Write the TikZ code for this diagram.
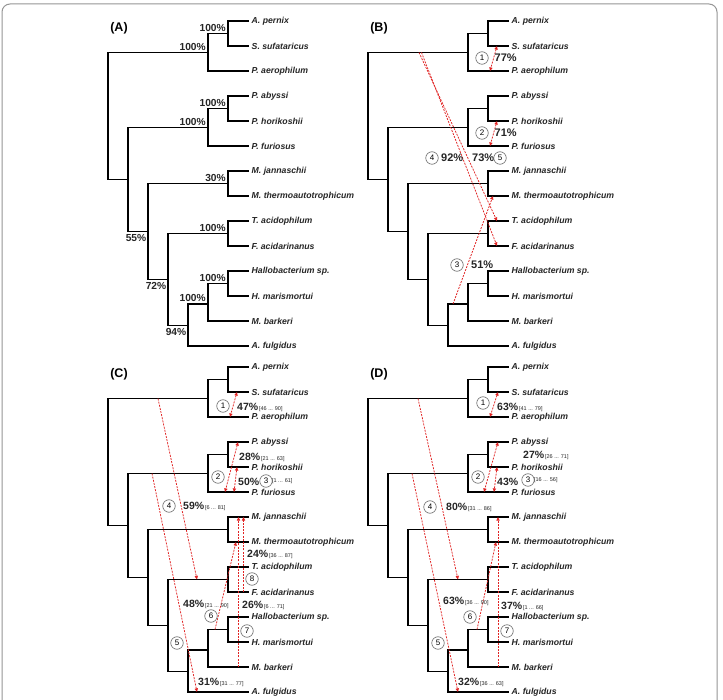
\documentclass[tikz,border=0pt]{standalone}
\usepackage{fontspec}
\setmainfont{Liberation Sans}
\usetikzlibrary{arrows.meta}
\definecolor{hgt}{RGB}{225,35,35}
\definecolor{framec}{RGB}{150,150,150}
\newcommand\ivl[1]{{\fontsize{5.5}{6}\selectfont\mdseries\,[#1]}}
\newcommand\archtree{%
  \coordinate (n1) at (228,33.5);
  \coordinate (n2) at (208,52.5);
  \coordinate (n3) at (228,108.5);
  \coordinate (n4) at (208,127.5);
  \coordinate (n5) at (228,183.5);
  \coordinate (n6) at (228,233.5);
  \coordinate (n7) at (228,283.5);
  \coordinate (n8) at (208,304);
  \coordinate (n9) at (188,325.5);
  \coordinate (n10) at (168,279.5);
  \coordinate (n11) at (148,231.5);
  \coordinate (n12) at (128,179.5);
  \coordinate (rt) at (108,116);
  \foreach \t [count=\i from 0] in {A. pernix,S. sufataricus,P. aerophilum,P. abyssi,P. horikoshii,P. furiosus,M. jannaschii,M. thermoautotrophicum,T. acidophilum,F. acidarinanus,Hallobacterium sp.,H. marismortui,M. barkeri,A. fulgidus}{%
    \coordinate (L\i) at (248,{21+25*\i});
    \node[leaf] (T\i) at (L\i) {\t};
  }
  \draw[br] (L0) -| (n1) |- (L1);
  \draw[br] (n1) -| (n2) |- (L2);
  \draw[br] (L3) -| (n3) |- (L4);
  \draw[br] (n3) -| (n4) |- (L5);
  \draw[br] (L6) -| (n5) |- (L7);
  \draw[br] (L8) -| (n6) |- (L9);
  \draw[br] (L10) -| (n7) |- (L11);
  \draw[br] (n7) -| (n8) |- (L12);
  \draw[br] (n8) -| (n9) |- (L13);
  \draw[br] (n6) -| (n10) |- (n9);
  \draw[br] (n5) -| (n11) |- (n10);
  \draw[br] (n4) -| (n12) |- (n11);
  \draw[br] (n2) -| (rt) |- (n12);
}
\begin{document}
\begin{tikzpicture}[x=1pt,y=-1pt,
  br/.style={line width=1.8pt, line cap=rect, line join=miter},
  leaf/.style={anchor=west, inner sep=0pt, xshift=3.5pt, font=\fontsize{8.7}{10}\selectfont\bfseries\itshape, text=black!85},
  supa/.style={inner sep=0.6pt, font=\fontsize{10.2}{12}\selectfont\bfseries, text=black!85},
  plab/.style={inner sep=0pt, font=\fontsize{12.5}{14}\selectfont\bfseries},
  pctb/.style={anchor=west, inner sep=0pt, font=\fontsize{11}{12}\selectfont\bfseries, text=black!85},
  pctc/.style={anchor=west, inner sep=0pt, font=\fontsize{10.5}{12}\selectfont\bfseries, text=black!85},
  circ/.style={circle, draw=black!60, line width=0.6pt, minimum size=12.5pt, inner sep=0pt, font=\fontsize{8}{9}\selectfont},
  hg/.style={draw=hgt, line width=0.75pt, dash pattern=on 2pt off 1.2pt, {Triangle[length=3.6pt,width=3.2pt]}-{Triangle[length=3.6pt,width=3.2pt]}},
  hgo/.style={draw=hgt, line width=0.75pt, dash pattern=on 2pt off 1.2pt, -{Triangle[length=3.6pt,width=3.2pt]}},
]
\fill[white] (0,0) rectangle (723,700);
\useasboundingbox (0,0) rectangle (723,700);
\begin{scope}
  \clip (0,0) rectangle (723,700);
  \draw[framec, line width=1pt, rounded corners=8pt] (2,4) rectangle (717,730);
\end{scope}

% ---------------- (A)
\begin{scope}[name prefix=A-]
  \archtree
  \node[plab] (lab) at (119,28) {(A)};
  \node[supa, anchor=south east] (s1) at (226.5,32) {100\%};
  \node[supa, anchor=south east] (s2) at (206.5,51) {100\%};
  \node[supa, anchor=south east] (s3) at (226.5,107) {100\%};
  \node[supa, anchor=south east] (s4) at (206.5,126) {100\%};
  \node[supa, anchor=south east] (s5) at (226.5,182) {30\%};
  \node[supa, anchor=south east] (s6) at (226.5,232) {100\%};
  \node[supa, anchor=south east] (s7) at (226.5,282) {100\%};
  \node[supa, anchor=south east] (s8) at (206.5,302.5) {100\%};
  \node[supa, anchor=north east] (s11) at (147,234) {55\%};
  \node[supa, anchor=north east] (s10) at (167,282) {72\%};
  \node[supa, anchor=north east] (s9) at (187,328) {94\%};
\end{scope}

% ---------------- (B)
\begin{scope}[shift={(260,0)}, name prefix=B-]
  \archtree
  \node[plab] (lab) at (119,28) {(B)};
  \coordinate (a1s) at (237,46); \coordinate (a1e) at (230,71);
  \coordinate (a2s) at (237,121); \coordinate (a2e) at (230,146);
  \coordinate (a4s) at (159,52.5); \coordinate (a4e) at (237,221);
  \coordinate (a5s) at (161.5,52.5); \coordinate (a5e) at (237,246);
  \coordinate (a3s) at (193,304); \coordinate (a3e) at (233,196);
  \draw[hg] (a1s) -- (a1e);
  \draw[hg] (a2s) -- (a2e);
  \draw[hgo] (a4s) -- (a4e);
  \draw[hgo] (a5s) -- (a5e);
  \draw[hgo] (a3s) -- (a3e);
  \node[circ] (c1) at (222,58) {1};
  \node[pctb] (p1) at (234.5,58) {77\%};
  \node[circ] (c2) at (222,133) {2};
  \node[pctb] (p2) at (234.5,133) {71\%};
  \node[circ] (c4) at (172,158) {4};
  \node[pctb] (p4) at (181,158) {92\%};
  \node[pctb] (p5) at (212,158) {73\%};
  \node[circ] (c5) at (240,158) {5};
  \node[circ] (c3) at (197,265) {3};
  \node[pctb] (p3) at (211,265) {51\%};
\end{scope}

% ---------------- (C)
\begin{scope}[shift={(0,346)}, name prefix=C-]
  \archtree
  \node[plab] (lab) at (119,28) {(C)};
  \coordinate (a1s) at (237,46); \coordinate (a1e) at (230,71);
  \coordinate (a2s) at (238,96); \coordinate (a2e) at (225,146);
  \coordinate (a3s) at (237,121); \coordinate (a3e) at (234,146);
  \coordinate (a4s) at (158,52.5); \coordinate (a4e) at (197,233.5);
  \coordinate (a5s) at (152,127.5); \coordinate (a5e) at (197,346);
  \coordinate (a6s) at (215,283.5); \coordinate (a6e) at (236,196);
  \coordinate (a7s) at (238.5,321); \coordinate (a7e) at (238.5,171);
  \coordinate (a8s) at (243.5,246); \coordinate (a8e) at (243.5,171);
  \draw[hg] (a1s) -- (a1e);
  \draw[hg] (a2s) -- (a2e);
  \draw[hg] (a3s) -- (a3e);
  \draw[hgo] (a4s) -- (a4e);
  \draw[hgo] (a5s) -- (a5e);
  \draw[hgo] (a6s) -- (a6e);
  \draw[hgo] (a7s) -- (a7e);
  \draw[hgo] (a8s) -- (a8e);
  \node[circ] (c1) at (223,60) {1};
  \node[pctc] (p1) at (237,61) {47\%\ivl{46 ... 90}};
  \node[pctc] (p2) at (239,111) {28\%\ivl{21 ... 63}};
  \node[circ] (c2) at (218,131) {2};
  \node[pctc] (p3) at (238,136) {50\%};
  \node[circ] (c3) at (266,135) {3};
  \node[pctc] (i3) at (271,135) {\ivl{1 ... 61}};
  \node[circ] (c4) at (169,160) {4};
  \node[pctc] (p4) at (183,160) {59\%\ivl{6 ... 81}};
  \node[pctc] (p8) at (247,208) {24\%\ivl{36 ... 87}};
  \node[circ] (c8) at (252,233) {8};
  \node[pctc] (p6) at (183,258) {48\%\ivl{21 ... 90}};
  \node[circ] (c6) at (211,270) {6};
  \node[pctc] (p7) at (242,259) {26\%\ivl{6 ... 71}};
  \node[circ] (c7) at (247,285) {7};
  \node[circ] (c5) at (177,297) {5};
  \node[pctc] (p5) at (198,336) {31\%\ivl{31 ... 77}};
\end{scope}

% ---------------- (D)
\begin{scope}[shift={(260,346)}, name prefix=D-]
  \archtree
  \node[plab] (lab) at (119,28) {(D)};
  \coordinate (a1s) at (238,46); \coordinate (a1e) at (230,71);
  \coordinate (a2s) at (238,96); \coordinate (a2e) at (224,146);
  \coordinate (a3s) at (237,121); \coordinate (a3e) at (234,146);
  \coordinate (a4s) at (158,52.5); \coordinate (a4e) at (198,233.5);
  \coordinate (a5s) at (152,127.5); \coordinate (a5e) at (198,346);
  \coordinate (a6s) at (217,283.5); \coordinate (a6e) at (236,196);
  \coordinate (a7s) at (238,321); \coordinate (a7e) at (238,171);
  \draw[hg] (a1s) -- (a1e);
  \draw[hg] (a2s) -- (a2e);
  \draw[hg] (a3s) -- (a3e);
  \draw[hgo] (a4s) -- (a4e);
  \draw[hgo] (a5s) -- (a5e);
  \draw[hgo] (a6s) -- (a6e);
  \draw[hgo] (a7s) -- (a7e);
  \node[circ] (c1) at (223,57) {1};
  \node[pctc] (p1) at (237,61) {63\%\ivl{41 ... 79}};
  \node[pctc] (p2) at (263,109) {27\%\ivl{26 ... 71}};
  \node[circ] (c2) at (218,131) {2};
  \node[pctc] (p3) at (237,136) {43\%};
  \node[circ] (c3) at (268,134) {3};
  \node[pctc] (i3) at (273,134) {\ivl{16 ... 56}};
  \node[circ] (c4) at (170,161) {4};
  \node[pctc] (p4) at (186,161) {80\%\ivl{31 ... 86}};
  \node[pctc] (p6) at (183,255) {63\%\ivl{36 ... 90}};
  \node[circ] (c6) at (210,271) {6};
  \node[pctc] (p7) at (241,260) {37\%\ivl{1 ... 66}};
  \node[circ] (c7) at (247,285) {7};
  \node[circ] (c5) at (178,297) {5};
  \node[pctc] (p5) at (198,336) {32\%\ivl{36 ... 63}};
\end{scope}
\end{tikzpicture}
\end{document}
